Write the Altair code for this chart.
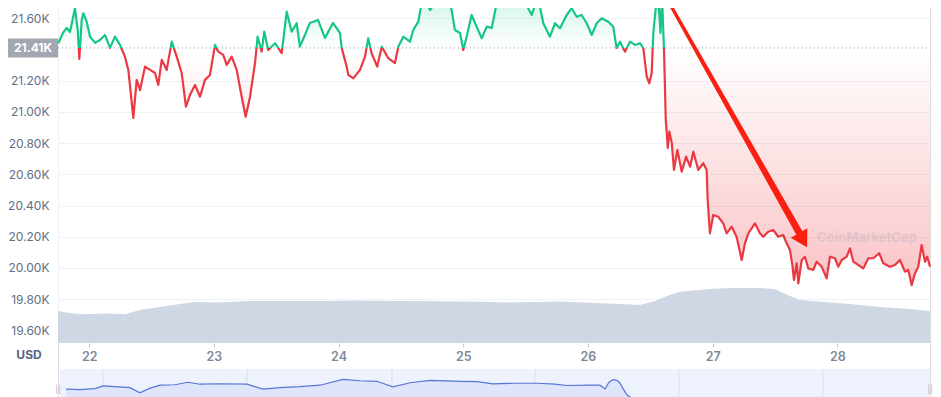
import altair as alt
import pandas as pd

# ---------------- data ----------------
BASELINE = 21410

price_day = [21.752, 21.79, 21.82, 21.846, 21.886, 21.908, 21.921, 21.94, 21.953, 21.98,
 22.007, 22.047, 22.087, 22.127, 22.167, 22.207, 22.247, 22.287, 22.314, 22.354,
 22.381, 22.408, 22.448, 22.488, 22.528, 22.554, 22.582, 22.622, 22.662, 22.702,
 22.742, 22.776, 22.808, 22.849, 22.889, 22.929, 22.969, 23.009, 23.035, 23.075,
 23.103, 23.143, 23.183, 23.223, 23.255, 23.29, 23.33, 23.351, 23.383, 23.404,
 23.436, 23.49, 23.544, 23.584, 23.624, 23.664, 23.69, 23.73, 23.77, 23.835,
 23.891, 23.955, 24.011, 24.025, 24.065, 24.078, 24.118, 24.172, 24.212, 24.238,
 24.265, 24.31, 24.346, 24.399, 24.452, 24.479, 24.519, 24.573, 24.599, 24.639,
 24.666, 24.693, 24.733, 24.773, 24.813, 24.867, 24.907, 24.933, 24.974, 25.0,
 25.027, 25.067, 25.107, 25.148, 25.188, 25.228, 25.268, 25.294, 25.348, 25.401,
 25.455, 25.508, 25.549, 25.589, 25.615, 25.642, 25.695, 25.736, 25.776, 25.829,
 25.869, 25.91, 25.95, 25.99, 26.03, 26.07, 26.11, 26.163, 26.203, 26.229,
 26.257, 26.297, 26.337, 26.377, 26.417, 26.444, 26.471, 26.492, 26.511, 26.524,
 26.542, 26.558, 26.57, 26.582, 26.594, 26.61, 26.624, 26.632, 26.64, 26.653,
 26.672, 26.69, 26.717, 26.752, 26.787, 26.819, 26.845, 26.885, 26.925, 26.952,
 26.96, 26.978, 27.005, 27.045, 27.085, 27.112, 27.152, 27.192, 27.233, 27.259,
 27.286, 27.339, 27.379, 27.406, 27.446, 27.486, 27.526, 27.566, 27.593, 27.62,
 27.641, 27.652, 27.674, 27.687, 27.714, 27.74, 27.767, 27.807, 27.834, 27.874,
 27.914, 27.941, 27.981, 28.007, 28.035, 28.075, 28.101, 28.128, 28.168, 28.208,
 28.248, 28.288, 28.336, 28.368, 28.422, 28.462, 28.502, 28.542, 28.569, 28.596,
 28.622, 28.649, 28.676, 28.703, 28.721, 28.743]

price_usd = [21440, 21506, 21538, 21512, 21664, 21525, 21339, 21589, 21632, 21578,
 21482, 21442, 21461, 21493, 21410, 21482, 21429, 21354, 21269, 20961,
 21205, 21140, 21290, 21269, 21249, 21172, 21333, 21269, 21450, 21354,
 21249, 21033, 21108, 21172, 21097, 21205, 21237, 21429, 21386, 21365,
 21301, 21354, 21269, 21097, 20969, 21097, 21312, 21482, 21386, 21514,
 21397, 21440, 21376, 21642, 21514, 21568, 21418, 21493, 21570, 21589,
 21474, 21570, 21506, 21410, 21290, 21237, 21215, 21269, 21354, 21472,
 21376, 21290, 21418, 21344, 21312, 21418, 21482, 21450, 21525, 21578,
 21696, 21730, 21653, 21696, 21724, 21737, 21653, 21525, 21506, 21397,
 21482, 21621, 21546, 21472, 21546, 21538, 21696, 21717, 21737, 21674,
 21706, 21685, 21621, 21717, 21674, 21568, 21482, 21568, 21536, 21621,
 21664, 21610, 21621, 21568, 21493, 21568, 21600, 21578, 21546, 21410,
 21450, 21386, 21450, 21429, 21440, 21408, 21226, 21183, 21249, 21504,
 21653, 21750, 21653, 21506, 21737, 21397, 20948, 20865, 20769, 20873,
 20801, 20628, 20756, 20617, 20713, 20649, 20745, 20628, 20671, 20628,
 20435, 20222, 20339, 20328, 20286, 20222, 20264, 20200, 20051, 20158,
 20222, 20286, 20222, 20200, 20232, 20243, 20200, 20211, 20158, 20115,
 20008, 19923, 20030, 19901, 20051, 20072, 19997, 19987, 20040, 20008,
 19933, 20072, 20062, 20008, 20051, 20072, 20126, 20040, 20019, 19997,
 20062, 20062, 20094, 20030, 20008, 20019, 20051, 19976, 19987, 19890,
 19965, 20008, 20147, 20040, 20072, 20008]

vol_day = [21.75, 21.846, 21.926, 22.167, 22.287, 22.408, 22.568, 22.728, 22.849, 23.009,
 23.29, 23.851, 24.132, 24.493, 25.054, 25.375, 25.776, 26.096, 26.257, 26.417,
 26.537, 26.617, 26.737, 26.978, 27.138, 27.379, 27.499, 27.62, 27.7, 27.94,
 28.101, 28.341, 28.582, 28.743]
vol_bn = [32, 30, 28.7, 29.5, 28.7, 33, 36, 39, 41, 40.5,
 42, 42, 42.5, 42, 41.5, 40.5, 41.5, 39.7, 39, 38,
 42, 46.3, 51.3, 54, 55, 55, 54, 47, 43, 40.5,
 39, 36, 34, 32]

nav_day = [21.814, 21.926, 22.047, 22.111, 22.207, 22.327, 22.408, 22.488, 22.568, 22.688,
 22.792, 22.889, 23.049, 23.266, 23.394, 23.53, 23.691, 23.851, 24.035, 24.172,
 24.308, 24.436, 24.573, 24.733, 24.974, 25.11, 25.238, 25.415, 25.591, 25.736,
 25.832, 26.016, 26.096, 26.137, 26.169, 26.201, 26.233, 26.257, 26.289, 26.313,
 26.353, 26.457, 26.898, 27.379, 27.7, 28.101, 28.502, 28.743]
nav_usd = [21271, 21250, 21293, 21413, 21379, 21336, 21113, 21314, 21443, 21464,
 21572, 21486, 21507, 21486, 21271, 21336, 21379, 21443, 21700, 21636,
 21614, 21370, 21550, 21657, 21614, 21602, 21499, 21529, 21529, 21486,
 21430, 21443, 21443, 21284, 21572, 21687, 21657, 21529, 21228, 21014,
 20885, 20800, 20585, 20370, 20200, 20113, 20113, 20113]
nav_grid_day = [22.111, 23.266, 24.429, 25.576, 26.73, 27.885]

x_ticks = [22, 23, 24, 25, 26, 27, 28]
y_ticks = [19600, 19800, 20000, 20200, 20400, 20600, 20800, 21000, 21200, 21600]

arrow_day = [26.602, 27.70]
arrow_usd = [21769, 20217]
arrow_w = [3, 7]
arrow_head = {"d": [27.725], "price": [20178]}
watermark = {"d": [28.237], "price": [20192], "txt": ["CoinMarketCap"]}

# ---------------- styling ----------------
GREEN = "#16c784"
RED = "#ea3943"
W, H = 872, 397
FONT = "Inter"

df_price = pd.DataFrame({"d": price_day, "price": price_usd, "base": BASELINE})
df_vol = pd.DataFrame({"d": vol_day, "vol": vol_bn})
df_nav = pd.DataFrame({"d": nav_day, "nav": nav_usd})
df_navgrid = pd.DataFrame({"d": nav_grid_day})
df_base = pd.DataFrame({"base": [BASELINE], "label": [f"{BASELINE/1000:.2f}K"]})
df_one = pd.DataFrame({"k": [1]})
df_arrow = pd.DataFrame({"d": arrow_day, "price": arrow_usd, "w": arrow_w})
df_head = pd.DataFrame(arrow_head)
df_wm = pd.DataFrame(watermark)

pmax, pmin = max(price_usd), min(price_usd)
t = (pmax - BASELINE) / (pmax - pmin)

line_grad = alt.LinearGradient(
    gradient="linear", x1=0, x2=0, y1=0, y2=1,
    stops=[alt.GradientStop(offset=0, color=GREEN), alt.GradientStop(offset=t, color=GREEN),
           alt.GradientStop(offset=t, color=RED), alt.GradientStop(offset=1, color=RED)])
fill_grad = alt.LinearGradient(
    gradient="linear", x1=0, x2=0, y1=0, y2=1,
    stops=[alt.GradientStop(offset=0, color="rgba(22,199,132,0.20)"),
           alt.GradientStop(offset=t, color="rgba(22,199,132,0.0)"),
           alt.GradientStop(offset=t, color="rgba(234,57,67,0.0)"),
           alt.GradientStop(offset=1, color="rgba(234,57,67,0.30)")])

xscale = alt.Scale(domain=[21.75, 28.743], nice=False, zero=False)
xaxis = alt.Axis(values=x_ticks, format="d", title=None, grid=False, domain=False,
                 tickSize=4, tickColor="#c5cad3", labelColor="#7f889b", labelFontWeight=600,
                 labelFontSize=12.5, labelPadding=3, offset=-(H - 343), labelFont=FONT)
yscale = alt.Scale(domain=[19519, 21717], range=[343, 0], nice=False, zero=False)
yaxis = alt.Axis(values=y_ticks, labelExpr="format(datum.value/1000,'.2f')+'K'", title=None,
                 grid=True, gridColor="#eff2f5", ticks=False, domain=True, domainColor="#eef0f3",
                 labelColor="#616e85", labelFontSize=12, labelPadding=9, labelFont=FONT)
volscale = alt.Scale(domain=[0, 100], range=[343, 243], nice=False, zero=True)
navscale = alt.Scale(domain=[19800, 21800], range=[423, 377], nice=False, zero=False)


def X():
    return alt.X("d:Q", scale=xscale, axis=xaxis)


def Yp(field="price:Q"):
    return alt.Y(field, scale=yscale, axis=None)


nav_bg = alt.Chart(df_one).mark_rect(color="#eef2fd").encode(
    x=alt.value(2), x2=alt.value(W), y=alt.value(369), y2=alt.value(H + 5))
nav_grid = alt.Chart(df_navgrid).mark_rule(color="#d6def6", strokeWidth=1).encode(
    x=X(), y=alt.value(369), y2=alt.value(H + 5))
nav_area = alt.Chart(df_nav).mark_area(color="#dfe6fb").encode(
    x=X(), y=alt.Y("nav:Q", scale=navscale, axis=None), y2=alt.datum(19800))
nav_line = alt.Chart(df_nav).mark_line(color="#5675d8", strokeWidth=1.2).encode(
    x=X(), y=alt.Y("nav:Q", scale=navscale, axis=None))
nav_handles = alt.Chart(pd.DataFrame({"px": [0, W]})).mark_text(
    text="||", color="#a6adbd", fontSize=8, font=FONT).encode(
    x=alt.X("px:Q", scale=None), y=alt.value(390))

vol_area = alt.Chart(df_vol).mark_area(color="#cfd6e4").encode(
    x=X(), y=alt.Y("vol:Q", scale=volscale, axis=None), y2=alt.datum(0))

price_fill = alt.Chart(df_price).mark_area(fill=fill_grad).encode(
    x=X(), y=Yp(), y2=alt.Y2("base:Q"))
base_rule = alt.Chart(df_base).mark_rule(color="#8c93a0", strokeDash=[1, 3], strokeWidth=1).encode(
    y=Yp("base:Q"), x=alt.value(0), x2=alt.value(W))
price_line = alt.Chart(df_price).mark_line(stroke=line_grad, strokeWidth=2.2,
                                           strokeJoin="round").encode(
    x=X(), y=alt.Y("price:Q", scale=yscale, axis=yaxis))
base_box = alt.Chart(df_base).mark_rule(color="#a2a7b1", strokeWidth=19, strokeCap="butt").encode(
    y=Yp("base:Q"), x=alt.value(-50), x2=alt.value(0))
base_text = alt.Chart(df_base).mark_text(color="white", fontWeight="bold", fontSize=12,
                                         font=FONT).encode(
    y=Yp("base:Q"), x=alt.value(-25), text="label:N")
usd_text = alt.Chart(df_one).mark_text(text="USD", color="#58667e", fontWeight="bold",
                                       fontSize=12, font=FONT).encode(
    x=alt.value(-29), y=alt.value(355))
wm_text = alt.Chart(df_wm).mark_text(color="#9aa6bb", opacity=0.25, fontWeight="bold",
                                     fontSize=13, font=FONT).encode(
    x=X(), y=Yp(), text="txt:N")
arrow_shaft = alt.Chart(df_arrow).mark_trail(color="#fb1f12").encode(
    x=X(), y=Yp(), size=alt.Size("w:Q", scale=None, legend=None))
arrow_tip = alt.Chart(df_head).mark_point(shape="triangle-up", filled=True, color="#fb1f12",
                                          opacity=1, size=360, angle=150.7).encode(
    x=X(), y=Yp())

chart = alt.layer(
    nav_bg, nav_grid, nav_area, nav_line, nav_handles,
    vol_area, price_fill, base_rule, price_line, base_box, base_text, usd_text,
    wm_text, arrow_shaft, arrow_tip
).resolve_scale(y="independent").properties(
    width=W, height=H,
    autosize=alt.AutoSizeParams(type="none"),
    padding={"left": 50, "top": -8, "right": 3, "bottom": 0},
    background="white",
).configure_view(stroke=None).configure(font=FONT)

chart.save("out.html", embed_options={"renderer": "svg", "actions": False})
